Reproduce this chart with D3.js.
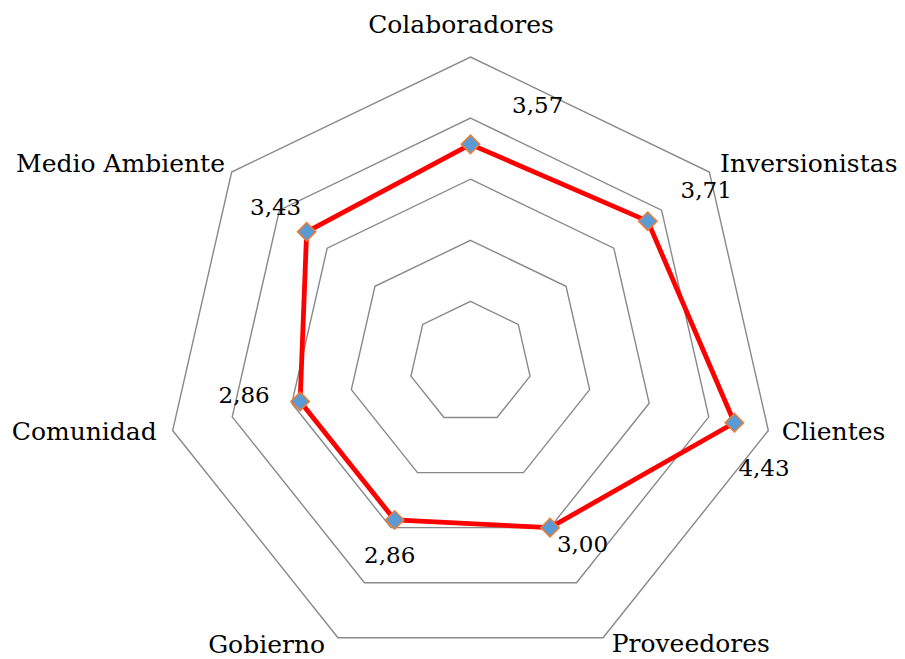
<!DOCTYPE html>
<html>
<head>
<meta charset="utf-8">
<script src="https://cdn.jsdelivr.net/npm/d3@7"></script>
<style>
  html, body { margin: 0; padding: 0; background: #fff; }
  svg { display: block; }
  text { font-family: "DejaVu Serif", "Liberation Serif", serif; fill: #000; }
</style>
</head>
<body>
<script>
// ---- data ----
const categories = ["Colaboradores", "Inversionistas", "Clientes", "Proveedores", "Gobierno", "Comunidad", "Medio Ambiente"];
const values = [3.57, 3.71, 4.43, 3.00, 2.86, 2.86, 3.43];
const valueLabels = ["3,57", "3,71", "4,43", "3,00", "2,86", "2,86", "3,43"];
const ringLevels = [1, 2, 3, 4, 5];

// ---- layout ----
const W = 905, H = 659;
const cx = 470.5, cy = 362.5, R = 305.5;
const maxValue = 5;
// category label placement relative to outer vertex: [dx, dy, anchor]
const catLabelLayout = [
  [-9.5, -24, "middle"],
  [10.7, 0, "start"],
  [13.3, 10, "start"],
  [8.6, 14.5, "start"],
  [-12.9, 15, "end"],
  [-15.9, 9.5, "end"],
  [-6.7, 0, "end"]
];
// value label placement relative to data point (center x, baseline)
const valLabelLayout = [
  [67.2, -31], [58.5, -23], [29.6, 53.3], [32.5, 24], [-5, 42.8], [-56, 1.3], [-31, -17]
];

const svg = d3.select("body").append("svg").attr("width", W).attr("height", H);

const angle = d3.scaleLinear().domain([0, categories.length]).range([-Math.PI / 2, 1.5 * Math.PI]);
const r = d3.scaleLinear().domain([0, maxValue]).range([0, R]);
const pt = (i, v) => [cx + r(v) * Math.cos(angle(i)), cy + r(v) * Math.sin(angle(i))];

const line = d3.line().curve(d3.curveLinearClosed);

// grid rings
svg.append("g").selectAll("path").data(ringLevels).join("path")
  .attr("d", lv => line(categories.map((c, i) => pt(i, lv))))
  .attr("fill", "none").attr("stroke", "#898989").attr("stroke-width", 1.4)
  .attr("stroke-linejoin", "miter");

// series line
svg.append("path")
  .attr("d", line(values.map((v, i) => pt(i, v))))
  .attr("fill", "none").attr("stroke", "#FF0000").attr("stroke-width", 4.8)
  .attr("stroke-linejoin", "round");

// markers
const diamond = d3.symbol().type(d3.symbolSquare).size(170);
svg.append("g").selectAll("path").data(values).join("path")
  .attr("d", diamond)
  .attr("transform", (v, i) => { const p = pt(i, v); return `translate(${p[0]},${p[1]}) rotate(45)`; })
  .attr("fill", "#5B9BD5").attr("stroke", "#ED7D31").attr("stroke-width", 1.5);

// value labels
svg.append("g").selectAll("text").data(values).join("text")
  .attr("x", (v, i) => pt(i, v)[0] + valLabelLayout[i][0])
  .attr("y", (v, i) => pt(i, v)[1] + valLabelLayout[i][1])
  .attr("text-anchor", "middle")
  .attr("font-size", 23)
  .text((v, i) => valueLabels[i]);

// category labels
svg.append("g").selectAll("text").data(categories).join("text")
  .attr("x", (c, i) => pt(i, maxValue)[0] + catLabelLayout[i][0])
  .attr("y", (c, i) => pt(i, maxValue)[1] + catLabelLayout[i][1])
  .attr("text-anchor", (c, i) => catLabelLayout[i][2])
  .attr("font-size", 25)
  .text(c => c);
</script>
</body>
</html>
